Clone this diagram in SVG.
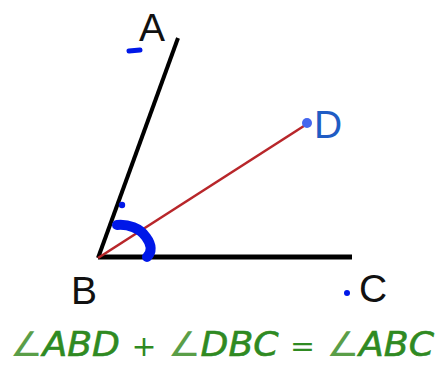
<svg xmlns="http://www.w3.org/2000/svg" width="446" height="371" viewBox="0 0 446 371">
<style>
.lbl{font-family:"Liberation Sans",Arial,sans-serif;font-size:39px;fill:#111}
.scr{fill:none;stroke:#0018e8;stroke-linecap:round;stroke-linejoin:round}
.eq{font-family:"DejaVu Sans","Liberation Sans",sans-serif;font-style:italic;font-size:34px;fill:#2f8a22;stroke:#2f8a22;stroke-width:0.6}
.ang{fill:#5a9e48;stroke:none}
.op{font-size:28px;stroke:none}
</style>
<rect width="446" height="371" fill="#fff"/>
<g id="connectors">
<line x1="98" y1="258" x2="178" y2="38" stroke="#000" stroke-width="4"/>
<line x1="98" y1="257" x2="352" y2="257" stroke="#000" stroke-width="5"/>
<line x1="98" y1="258" x2="307" y2="124" stroke="#b8262a" stroke-width="2.6"/>
</g>
<g id="A"><text class="lbl" x="139" y="41">A</text></g>
<g id="B"><text class="lbl" x="71" y="304">B</text></g>
<g id="C"><text class="lbl" x="359" y="302">C</text></g>
<g id="D"><circle cx="307" cy="123" r="5" fill="#4466ee"/><text class="lbl" x="314" y="138" style="fill:#1f5cc4">D</text></g>
<g id="scribbles">
<line class="scr" x1="129" y1="51" x2="140" y2="50" stroke-width="5"/>
<circle cx="122" cy="205" r="3.2" fill="#0018e8"/>
<path class="scr" d="M117,225 C128,224 140,228 146,237 C152,245 152,252 147,257" stroke-width="10"/>
<circle cx="347" cy="293" r="3" fill="#0018e8"/>
</g>
<g id="equation"><text class="eq" x="10" y="356" textLength="424" lengthAdjust="spacingAndGlyphs"><tspan class="ang">∠</tspan>ABD <tspan class="op">+</tspan> <tspan class="ang">∠</tspan>DBC <tspan class="op">=</tspan> <tspan class="ang">∠</tspan>ABC</text></g>
</svg>
